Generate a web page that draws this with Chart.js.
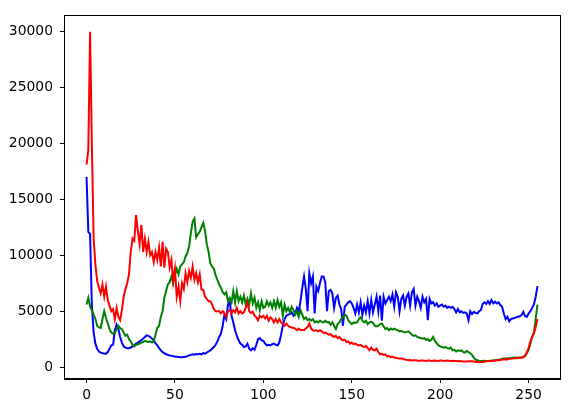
<!DOCTYPE html>
<html>
<head>
<meta charset="utf-8">
<script src="https://cdn.jsdelivr.net/npm/chart.js@4"></script>
<style>
  html, body { margin: 0; padding: 0; background: #fff; }
  canvas { display: block; }
</style>
</head>
<body>
<canvas id="hist" width="570" height="413"></canvas>
<script>
// histogram counts per intensity bin
var redCounts = [
  18100,19400,30000,20000,11500,9200,7700,7100,6600,7400,
  6300,7200,6000,5500,5000,5200,4300,5300,4500,4200,
  5100,6300,7000,7500,8300,10300,11500,11300,13600,12200,
  11000,12700,10300,11500,10300,11200,10000,10300,9400,10300,
  9600,10700,9000,11200,8900,10600,10300,8900,9600,7700,
  8800,6300,7200,5900,7500,7000,8400,7600,8600,8000,
  9000,7800,8400,7600,8300,6950,6900,6300,6100,5900,
  5900,5600,5200,5000,5000,5000,4800,5000,4800,4500,
  5000,5100,4800,5100,4900,5300,4800,5000,4800,4900,
  5300,5800,5000,4850,4950,4600,4450,4200,4600,4450,
  4600,4350,4600,4150,4450,4300,4000,4300,4000,4300,
  4000,3850,3700,3900,3700,3600,3550,3500,3450,3300,
  3450,3300,3350,3300,3450,3600,3900,3450,3300,3250,
  3300,3200,3300,3200,3050,3100,3000,2900,2950,2800,
  2700,2800,2600,2700,2500,2400,2450,2250,2300,2100,
  2200,2050,2100,2000,1950,2000,1850,1800,1900,1700,
  1500,1750,1550,1500,1650,1350,1150,1200,1100,1150,
  970,1000,900,950,850,850,800,770,770,750,
  680,650,620,630,600,620,610,600,560,590,
  600,580,560,600,590,560,580,600,570,560,
  600,590,560,570,600,580,560,570,560,550,
  530,550,530,510,500,510,530,520,530,500,
  470,480,470,460,470,490,530,540,560,550,
  560,600,610,620,640,680,680,700,690,760,
  770,780,800,800,830,850,850,870,1050,1300,
  1700,2300,2700,3000,3600,4300
];
var greenCounts = [
  5600,6200,5400,5100,4700,4300,3700,3550,3500,4300,
  5000,4400,3900,3400,3100,3000,3050,3400,3700,3500,
  3400,3100,2800,2900,2500,2300,2000,1850,2000,2050,
  2100,2200,2250,2350,2300,2250,2300,2200,2350,2900,
  3500,3700,4500,5000,6200,6800,7400,7600,8100,7500,
  8300,8800,8300,9000,9200,9400,9900,10200,10800,12000,
  13000,13300,11600,11900,12100,12500,12900,12200,11000,10300,
  9300,9000,8800,8200,7800,7400,7100,6700,6500,6700,
  5900,6200,5800,6800,5800,6800,5900,6300,5800,6400,
  5600,6100,5600,6600,5700,6200,5300,5800,5100,5900,
  5300,5400,5900,5500,5800,5300,5900,5300,6000,5400,
  5800,4600,5600,5000,5300,4900,5400,5100,4700,5000,
  4500,5100,4700,4300,4450,4200,4300,4150,4300,4000,
  4100,4000,4150,4050,4000,4150,4000,4050,3800,4000,
  3700,3400,3850,4000,4300,4450,4700,4600,4200,4000,
  3850,4000,3950,4000,4300,4450,4150,4000,4150,3850,
  4000,4050,3950,3700,3650,3700,3850,3900,3650,3400,
  3500,3300,3450,3350,3450,3350,3300,3200,3250,3150,
  3100,3150,3200,3050,2900,2800,2850,2700,2650,2600,
  2550,2600,2450,2500,2350,2450,2700,2350,2150,1950,
  1850,1800,1750,1800,1700,1650,1750,1500,1550,1400,
  1500,1450,1500,1350,1300,1450,1350,1250,1100,850,
  680,620,580,560,560,570,560,560,570,580,
  620,620,640,660,680,750,770,780,790,800,
  810,850,860,850,860,870,880,910,1000,1250,
  1550,2100,2700,3100,4300,5600
];
var blueCounts = [
  17000,12100,11900,5600,3100,2100,1650,1400,1300,1250,
  1200,1200,1350,1650,1950,2000,3300,3800,3400,2700,
  2200,1850,1750,1700,1700,1750,1850,1950,2100,2200,
  2300,2400,2550,2700,2850,2800,2700,2550,2400,2150,
  1950,1700,1500,1350,1250,1150,1100,1050,1030,980,
  950,920,900,880,880,900,920,980,1050,1100,
  1150,1120,1180,1150,1200,1150,1250,1200,1300,1400,
  1500,1650,1800,2000,2300,2700,3000,3700,4700,4300,
  5600,5800,4600,4000,3300,2800,2400,2100,2000,1800,
  1850,2100,1650,1500,1700,1550,2000,2500,2600,2400,
  2350,2100,1950,2000,1950,2050,2100,2000,1950,2200,
  2900,3700,4300,4600,4700,4750,4900,4600,4800,5300,
  5000,5900,7100,8100,7000,5000,8400,7500,8100,4800,
  7200,6800,7500,8100,8100,7600,5000,6800,6900,6600,
  5300,6200,6400,5600,5200,3700,5400,5600,5800,5900,
  5700,5300,4800,5600,4900,5800,4700,5500,4900,5900,
  4800,6000,4900,5600,6300,5000,6400,4150,6300,5700,
  6000,6300,5900,6500,5400,6700,6300,5000,6100,6400,
  5500,6300,6600,5500,6700,7000,5500,6300,5900,5300,
  6300,5800,6100,4200,6100,5700,5800,5500,5700,5400,
  5500,5600,5400,5500,5300,5400,5300,5400,5200,4900,
  5200,4900,5000,4850,4900,4800,4200,5000,4750,4950,
  4850,4800,5000,5100,5650,5800,5650,5900,5650,6000,
  5700,5850,5700,5800,5550,5400,4800,4300,4500,4100,
  4300,4350,4400,4450,4500,4550,4650,4950,4550,4500,
  4800,5000,5300,5600,6300,7250
];
var xTicks = [0, 50, 100, 150, 200, 250];
var yTicks = [0, 5000, 10000, 15000, 20000, 25000, 30000];

function toPoints(counts) {
  var pts = [];
  for (var i = 0; i < counts.length; i++) {
    pts.push({x: i, y: counts[i]});
  }
  return pts;
}

// box around the plot area, like matplotlib spines
var framePlugin = {
  id: 'frame',
  afterDraw: function(chart) {
    var a = chart.chartArea;
    var ctx = chart.ctx;
    ctx.save();
    ctx.strokeStyle = '#000';
    ctx.lineWidth = 1;
    ctx.strokeRect(Math.round(a.left) + 0.5, Math.round(a.top) + 0.5,
      Math.round(a.right - a.left), Math.round(a.bottom - a.top));
    ctx.restore();
  }
};

var tickFont = {family: 'DejaVu Sans', size: 13.9};
var plainLabel = function(v) { return String(v); };

var ctx = document.getElementById('hist');
var histChart = new Chart(ctx, {
  type: 'line',
  data: {
    datasets: [
      {label: 'r', data: toPoints(redCounts), borderColor: '#ff0000', borderWidth: 2},
      {label: 'g', data: toPoints(greenCounts), borderColor: '#008000', borderWidth: 2},
      {label: 'b', data: toPoints(blueCounts), borderColor: '#0000ff', borderWidth: 2}
    ]
  },
  options: {
    responsive: false,
    animation: false,
    layout: {padding: {top: 11, right: 10, left: 0, bottom: 0}},
    elements: {point: {radius: 0}, line: {tension: 0}},
    plugins: {legend: {display: false}, tooltip: {enabled: false}},
    scales: {
      x: {
        type: 'linear',
        min: -12.75,
        max: 267.75,
        afterBuildTicks: function(scale) {
          scale.ticks = xTicks.map(function(v) { return {value: v}; });
        },
        afterFit: function(scale) { scale.height = 34; },
        grid: {drawOnChartArea: false, drawTicks: true, tickLength: 4, tickColor: '#000'},
        border: {color: '#000', width: 1},
        ticks: {color: '#000', font: tickFont, padding: 4, maxRotation: 0, callback: plainLabel}
      },
      y: {
        type: 'linear',
        min: -1060,
        max: 31460,
        afterBuildTicks: function(scale) {
          scale.ticks = yTicks.map(function(v) { return {value: v}; });
        },
        afterFit: function(scale) { scale.width = 64; },
        grid: {drawOnChartArea: false, drawTicks: true, tickLength: 4, tickColor: '#000'},
        border: {color: '#000', width: 1},
        ticks: {color: '#000', font: tickFont, padding: 7, callback: plainLabel}
      }
    }
  },
  plugins: [framePlugin]
});
</script>
</body>
</html>
